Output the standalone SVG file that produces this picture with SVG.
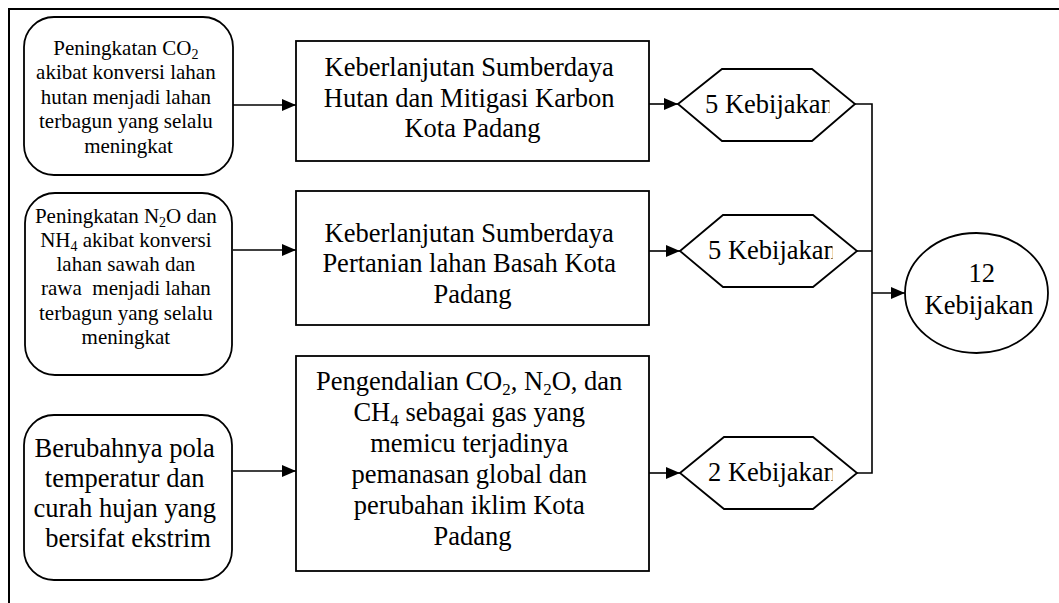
<svg xmlns="http://www.w3.org/2000/svg" width="1059" height="603" viewBox="0 0 1059 603">
<style>
.t{font-family:"Liberation Serif","Times New Roman",serif;fill:#000;}
.s21{font-size:21px;}
.s26{font-size:26.5px;}
.sh{fill:#fff;stroke:#000;stroke-width:1.8;}
.ln{fill:none;stroke:#000;stroke-width:1.6;}
</style>
<defs>
<marker id="ah" viewBox="0 0 14 12" refX="14" refY="6" markerWidth="14" markerHeight="12" markerUnits="userSpaceOnUse" orient="auto">
<path d="M0,0 L14,6 L0,12 Z" fill="#000"/>
</marker>
<clipPath id="hc" clipPathUnits="userSpaceOnUse"><rect x="690" y="0" width="142.5" height="603"/></clipPath>
<clipPath id="hc1" clipPathUnits="userSpaceOnUse"><rect x="690" y="0" width="139.5" height="603"/></clipPath>
</defs>
<rect width="1059" height="603" fill="#fff"/>
<path d="M9,603 V9 H1059" fill="none" stroke="#000" stroke-width="2"/>

<g id="connectors">
<path class="ln" d="M233,105 H296" marker-end="url(#ah)"/>
<path class="ln" d="M233,250 H296" marker-end="url(#ah)"/>
<path class="ln" d="M233,471 H296" marker-end="url(#ah)"/>
<path class="ln" d="M649,104 H678" marker-end="url(#ah)"/>
<path class="ln" d="M649,251 H680" marker-end="url(#ah)"/>
<path class="ln" d="M649,473 H680" marker-end="url(#ah)"/>
<path class="ln" d="M855,104 H872 V473 H857"/>
<path class="ln" d="M857,251 H872"/>
<path class="ln" d="M872,293 H905" marker-end="url(#ah)"/>
</g>

<g id="node-co2">
<rect class="sh" x="24" y="17" width="209" height="158" rx="30" ry="30"/>
<text class="t s21" text-anchor="middle">
<tspan x="128.5" y="55">Peningkatan CO<tspan font-size="14" dy="4">2</tspan></tspan>
<tspan x="128.5" y="79">akibat konversi lahan</tspan>
<tspan x="128.5" y="104">hutan menjadi lahan</tspan>
<tspan x="128.5" y="128">terbagun yang selalu</tspan>
<tspan x="128.5" y="153">meningkat</tspan>
</text>
</g>

<g id="node-n2o">
<rect class="sh" x="25" y="193" width="207" height="182" rx="30" ry="30"/>
<text class="t s21" text-anchor="middle" xml:space="preserve">
<tspan x="128.5" y="223">Peningkatan N<tspan font-size="14" dy="4">2</tspan><tspan dy="-4">O dan</tspan></tspan>
<tspan x="128.5" y="247">NH<tspan font-size="14" dy="4">4</tspan><tspan dy="-4"> akibat konversi</tspan></tspan>
<tspan x="128.5" y="271">lahan sawah dan</tspan>
<tspan x="128.5" y="295">rawa  menjadi lahan</tspan>
<tspan x="128.5" y="320">terbagun yang selalu</tspan>
<tspan x="128.5" y="344">meningkat</tspan>
</text>
</g>

<g id="node-iklim">
<rect class="sh" x="24" y="415" width="208" height="165" rx="30" ry="30"/>
<text class="t s26" text-anchor="middle">
<tspan x="128" y="457">Berubahnya pola</tspan>
<tspan x="128" y="487">temperatur dan</tspan>
<tspan x="128" y="517">curah hujan yang</tspan>
<tspan x="128" y="547">bersifat ekstrim</tspan>
</text>
</g>

<g id="box-hutan">
<rect class="sh" x="296" y="41" width="353" height="120"/>
<text class="t s26" text-anchor="middle">
<tspan x="472.5" y="76">Keberlanjutan Sumberdaya</tspan>
<tspan x="472.5" y="107">Hutan dan Mitigasi Karbon</tspan>
<tspan x="472.5" y="137">Kota Padang</tspan>
</text>
</g>

<g id="box-pertanian">
<rect class="sh" x="296" y="191" width="353" height="134"/>
<text class="t s26" text-anchor="middle">
<tspan x="472.5" y="242">Keberlanjutan Sumberdaya</tspan>
<tspan x="472.5" y="272">Pertanian lahan Basah Kota</tspan>
<tspan x="472.5" y="303">Padang</tspan>
</text>
</g>

<g id="box-pengendalian">
<rect class="sh" x="296" y="356" width="353" height="215"/>
<text class="t s26" text-anchor="middle">
<tspan x="472.5" y="390">Pengendalian CO<tspan font-size="17" dy="5">2</tspan><tspan dy="-5">, N</tspan><tspan font-size="17" dy="5">2</tspan><tspan dy="-5">O, dan</tspan></tspan>
<tspan x="472.5" y="421">CH<tspan font-size="17" dy="5">4</tspan><tspan dy="-5"> sebagai gas yang</tspan></tspan>
<tspan x="472.5" y="452">memicu terjadinya</tspan>
<tspan x="472.5" y="483">pemanasan global dan</tspan>
<tspan x="472.5" y="514">perubahan iklim Kota</tspan>
<tspan x="472.5" y="545">Padang</tspan>
</text>
</g>

<g id="hex-1">
<polygon class="sh" points="678,104 722,69 812,69 855,104 812,141 722,141"/>
<text class="t s26" x="705" y="113" clip-path="url(#hc1)">5 Kebijakan</text>
</g>

<g id="hex-2">
<polygon class="sh" points="680,251 723,215 813,215 857,251 813,287 723,287"/>
<text class="t s26" x="708" y="259" clip-path="url(#hc)">5 Kebijakan</text>
</g>

<g id="hex-3">
<polygon class="sh" points="680,473 724,437 813,437 857,473 813,509 724,509"/>
<text class="t s26" x="708" y="481" clip-path="url(#hc)">2 Kebijakan</text>
</g>

<g id="total">
<ellipse class="sh" cx="976.5" cy="293" rx="71.5" ry="60"/>
<text class="t s26" text-anchor="middle">
<tspan x="985" y="282">12</tspan>
<tspan x="979" y="314">Kebijakan</tspan>
</text>
</g>
</svg>
